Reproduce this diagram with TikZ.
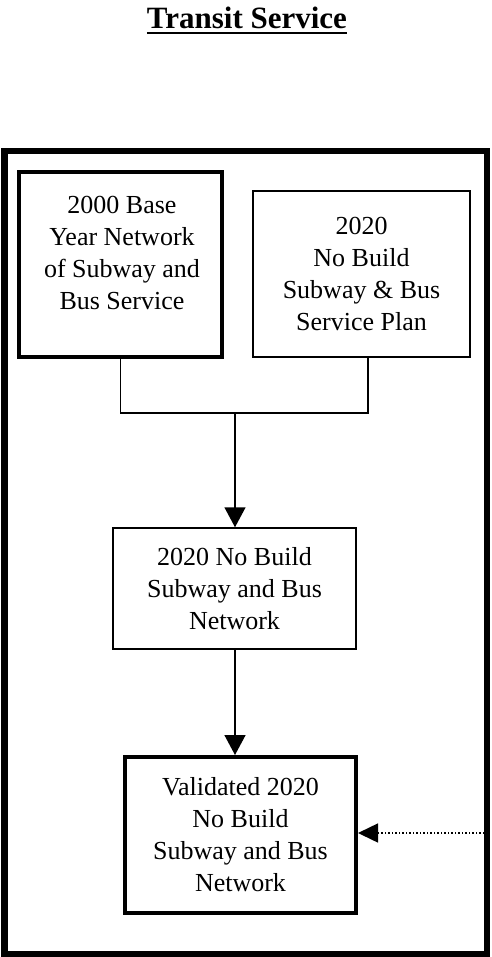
\documentclass[tikz,border=0pt]{standalone}
\usepackage{fontspec}
\setmainfont{Liberation Serif}
\usetikzlibrary{arrows.meta}

\tikzset{
  boxtext/.style={align=center, inner sep=0pt, font=\fontsize{26}{32}\selectfont},
  thinbox/.style={boxtext, draw, line width=1.5pt},
  thickbox/.style={boxtext, draw, line width=4pt},
  flow/.style={line width=1.5pt, -{Triangle[length=20pt, width=21pt]}},
  link/.style={line width=1.5pt},
}

\begin{document}
\begin{tikzpicture}[x=1pt, y=-1pt]
  \useasboundingbox (0,0) rectangle (491,957);

  % heading
  \node[anchor=base, inner sep=0pt, font=\fontsize{31}{36}\selectfont\bfseries]
    (title) at (247,29) {Transit Service};
  \draw[line width=2.5pt] ([yshift=-4pt]title.base west) -- ([yshift=-4pt]title.base east);

  % outer frame
  \draw[line width=6.5pt] (4.5,151) rectangle (487,954);

  % input boxes (the base-year text sits near the top of its box)
  \node[thickbox, minimum width=203pt, minimum height=185pt] (base) at (120.5,264.5) {};
  \node[boxtext] (basetext) at (122,253)
    {2000 Base\\Year Network\\of Subway and\\Bus Service};
  \node[thinbox, minimum width=217pt, minimum height=166pt] (plan) at (361.5,274)
    {2020\\No Build\\Subway \& Bus\\Service Plan};

  % merged network
  \node[thinbox, minimum width=243pt, minimum height=121pt] (net) at (234.5,588.5)
    {2020 No Build\\Subway and Bus\\Network};

  % validated network
  \node[thickbox, minimum width=231pt, minimum height=156pt] (valid) at (240.5,835)
    {Validated 2020\\No Build\\Subway and Bus\\Network};

  % joining bracket
  \coordinate (join) at (235,413);
  \coordinate (planleg) at (368,413);
  \draw[link] (base.south) |- (planleg) -- (plan.south -| planleg);
  \draw[flow] (join) -- (join |- net.north);

  \draw[flow] (net.south -| join) -- (valid.north -| join);

  % incoming dotted link from the right
  \coordinate (feed) at (484,833);
  \draw[line width=1.5pt, dotted, -{Triangle[length=20pt, width=19pt]}] (feed) -- (feed -| valid.east);
\end{tikzpicture}
\end{document}
